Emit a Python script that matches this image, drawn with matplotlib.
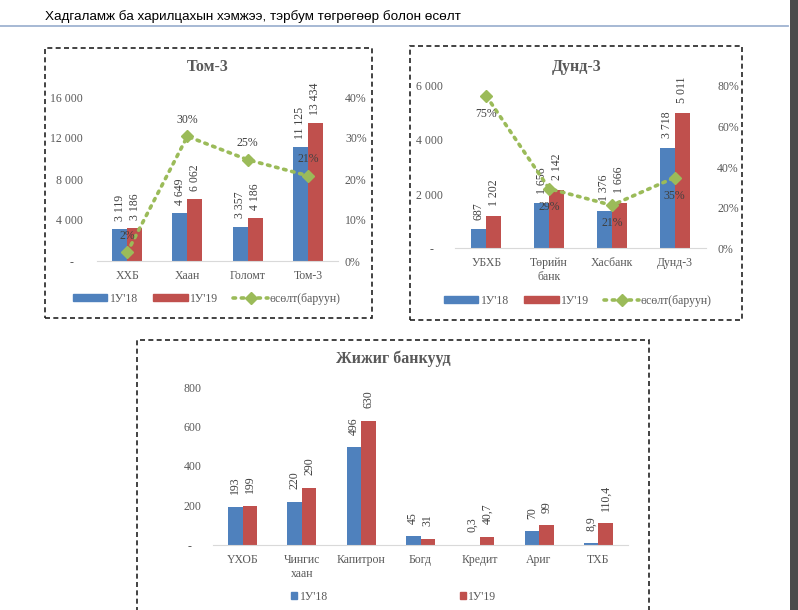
import matplotlib
matplotlib.use("Agg")
import matplotlib.pyplot as plt
from matplotlib.patches import Rectangle, Patch
from matplotlib.lines import Line2D
import numpy as np

# Том-3
top_cats = ['ХХБ', 'Хаан', 'Голомт', 'Том-3']
top_18 = [3119, 4649, 3357, 11125]
top_19 = [3186, 6062, 4186, 13434]
top_growth = [0.021, 0.304, 0.247, 0.208]

# Дунд-3
mid_cats = ['УБХБ', 'Төрийн\nбанк', 'Хасбанк', 'Дунд-3']
mid_18 = [687, 1656, 1376, 3718]
mid_19 = [1202, 2142, 1666, 5011]
mid_growth = [0.750, 0.293, 0.211, 0.348]

# Жижиг банкууд
small_cats = ['ҮХОБ', 'Чингис\nхаан', 'Капитрон', 'Богд', 'Кредит', 'Ариг', 'ТХБ']
small_18 = [193, 220, 496, 45, 0.3, 70, 8.9]
small_19 = [199, 290, 630, 31, 40.7, 99, 110.4]

BLUE = '#4F81BD'
RED = '#C0504D'
GREEN = '#9BBB59'
GREY = '#595959'
SERIF = 'Liberation Serif'
FS = 8.5

plt.rcParams['font.family'] = [SERIF, 'DejaVu Serif']

W, H = 798, 610
fig = plt.figure(figsize=(W / 100, H / 100), dpi=100)


def box(l, t, r, b):
    return [l / W, 1 - b / H, (r - l) / W, (b - t) / H]


def fmt_num(v):
    if v == int(v):
        return f"{int(v):,}".replace(',', ' ')
    return str(v).replace('.', ',')


def fmt_tick(v):
    return '-   ' if v == 0 else fmt_num(v)


def bar_panel(ax, cats, s18, s19, width, ymax, ystep, lpad, label_off):
    x = np.arange(len(cats))
    b1 = ax.bar(x - width / 2, s18, width, color=BLUE, zorder=2)
    b2 = ax.bar(x + width / 2, s19, width, color=RED, zorder=2)
    for bars, vals in ((b1, s18), (b2, s19)):
        for rect, v in zip(bars, vals):
            ax.annotate(fmt_num(v), (rect.get_x() + rect.get_width() / 2, rect.get_height()),
                        xytext=(0, label_off), textcoords='offset points',
                        rotation=90, ha='center', va='bottom', fontsize=FS,
                        color='#404040', annotation_clip=False)
    ax.set_xlim(-0.5, len(cats) - 0.5)
    ax.set_ylim(0, ymax)
    ticks = np.arange(0, ymax + 1, ystep)
    ax.set_yticks(ticks)
    ax.set_yticklabels([fmt_tick(t) for t in ticks])
    ax.set_xticks(x)
    ax.set_xticklabels(cats)
    ax.tick_params(axis='x', length=0, pad=6.5, labelsize=FS, labelcolor=GREY)
    ax.tick_params(axis='y', length=0, pad=lpad, labelsize=FS, labelcolor=GREY)
    for s in ('top', 'left', 'right'):
        ax.spines[s].set_visible(False)
    ax.spines['bottom'].set_color('#D9D9D9')
    ax.patch.set_alpha(0)


def growth_line(ax, vals, rmax, rstep, rpad, lab_off):
    axr = ax.twinx()
    x = np.arange(len(vals))
    axr.plot(x, vals, color=GREEN, lw=2.6, ls=(0, (0.7, 1.6)),
             dash_capstyle='round', marker='D', ms=6, zorder=3)
    for xi, v in zip(x, vals):
        axr.annotate(f"{v:.0%}", (xi, v), xytext=(0, lab_off), textcoords='offset points',
                     ha='center', va='center', fontsize=FS, color='#404040')
    axr.set_ylim(0, rmax)
    ticks = np.arange(0, rmax + 1e-9, rstep)
    axr.set_yticks(ticks)
    axr.set_yticklabels([f"{t:.0%}" for t in ticks])
    axr.tick_params(axis='y', length=0, pad=rpad, labelsize=FS, labelcolor=GREY)
    for s in axr.spines.values():
        s.set_visible(False)
    return axr


# panel 1
ax1 = fig.add_axes(box(97, 97, 338, 261))
bar_panel(ax1, top_cats, top_18, top_19, 0.25, 16000, 4000, 10, 6)
growth_line(ax1, top_growth, 0.4, 0.1, 5, 12)

# panel 2
ax2 = fig.add_axes(box(455, 86, 706, 248))
bar_panel(ax2, mid_cats, mid_18, mid_19, 0.24, 6000, 2000, 8.5, 7)
growth_line(ax2, mid_growth, 0.8, 0.2, 8, -13)

# panel 3
ax3 = fig.add_axes(box(213, 387, 628, 545))
bar_panel(ax3, small_cats, small_18, small_19, 0.245, 800, 200, 8.5, 9)

# titles
for (cx, cy), t in (((208, 67), 'Том-3'), ((577, 67), 'Дунд-3'), ((393, 359), 'Жижиг банкууд')):
    fig.text(cx / W, 1 - cy / H, t, ha='center', va='center', fontsize=11.5,
             fontweight='bold', color=GREY)

# legends
line_h = Line2D([], [], color=GREEN, lw=2.6, ls=(0, (0.7, 1.6)), dash_capstyle='round',
                marker='D', ms=6)
leg_labels = ["1У'18", "1У'19", 'өсөлт(баруун)']
for ax, cx, cy in ((ax1, 207, 299), (ax2, 578, 301)):
    ax.legend([Patch(color=BLUE), Patch(color=RED), line_h], leg_labels,
              loc='center', bbox_to_anchor=(cx / W, 1 - cy / H), bbox_transform=fig.transFigure,
              ncol=3, frameon=False, fontsize=FS, labelcolor=GREY, handlelength=2.9,
              handleheight=0.5, handletextpad=0.2, columnspacing=1.3, borderpad=0)
ax3.legend([Patch(color=BLUE), Patch(color=RED)], leg_labels[:2],
           loc='center', bbox_to_anchor=(394 / W, 1 - 597 / H), bbox_transform=fig.transFigure,
           ncol=2, frameon=False, fontsize=FS, labelcolor=GREY, handlelength=0.5,
           handleheight=0.5, handletextpad=0.2, columnspacing=11.2, borderpad=0)

# dashed frames
for l, t, r, b in ((45, 48, 372, 318), (410, 46, 742, 320), (137, 340, 649, 625)):
    fig.add_artist(Rectangle((l / W, 1 - b / H), (r - l) / W, (b - t) / H,
                             transform=fig.transFigure, fill=False, ec='#222222',
                             lw=1.2, ls=(0, (3, 2))))

# header
fig.text(45 / W, 1 - 17 / H, 'Хадгаламж ба харилцахын хэмжээ, тэрбум төгрөгөөр болон өсөлт',
         ha='left', va='center', fontsize=9.7, family='Liberation Sans', color='black')
fig.add_artist(Line2D([0, 788 / W], [1 - 26 / H] * 2, transform=fig.transFigure,
                      color='#9FB3D1', lw=1.3))
fig.add_artist(Rectangle((790 / W, 0), 8 / W, 1, transform=fig.transFigure,
                         color='#4B4B4B', lw=0))

fig.savefig('out.png', dpi=100)
